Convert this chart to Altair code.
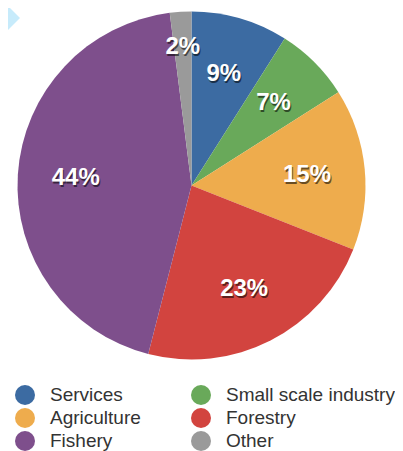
import altair as alt
import pandas as pd

categories = ["Services", "Small scale industry", "Agriculture", "Forestry", "Fishery", "Other"]
values = [9, 7, 15, 23, 44, 2]
labels = ["9%", "7%", "15%", "23%", "44%", "2%"]
colors = ["#3c6ba2", "#69a95a", "#eeac4d", "#d2443f", "#7e4f8c", "#9a9a9a"]

df = pd.DataFrame({
    "idx": list(range(len(categories))),
    "category": categories,
    "value": values,
    "label": labels,
})

CX, CY, R = 183.5, 177.5, 174

base = alt.Chart(df).transform_window(
    cum="sum(value)", sort=[alt.SortField("idx")], frame=[None, 0]
).transform_calculate(mid="datum.cum - datum.value / 2")

color = alt.Color(
    "category:N",
    scale=alt.Scale(domain=categories, range=colors),
    sort=categories,
    legend=alt.Legend(
        title=None, orient="none", legendX=7, legendY=377, columns=2,
        symbolType="circle", symbolSize=400, symbolStrokeWidth=0, symbolOpacity=1,
        labelFontSize=19, labelFont="Liberation Sans", labelColor="#333333",
        labelOffset=15, rowPadding=3, columnPadding=50, padding=0,
        labelLimit=400, direction="horizontal",
    ),
)

pie = base.mark_arc(radius=R).encode(
    theta=alt.Theta("value:Q", stack=True),
    order=alt.Order("idx:Q"),
    color=color,
    x=alt.value(CX),
    y=alt.value(CY),
)

theta_mid = alt.Theta("mid:Q", scale=alt.Scale(domain=[0, 100], range=[0, 6.283185307]), stack=None)

def text_layer(r, cond, fill, dx=0, dy=0, opacity=1.0):
    return base.transform_filter(cond).mark_text(
        radius=r, font="Liberation Sans", fontWeight="bold", fontSize=24,
        align="center", baseline="middle", dx=dx, dy=dy, opacity=opacity,
    ).encode(
        theta=theta_mid,
        text="label:N",
        color=alt.value(fill),
        x=alt.value(CX),
        y=alt.value(CY),
    )

main_cond = "datum.category != 'Other'"
other_cond = "datum.category == 'Other'"

shadow1 = text_layer(116, main_cond, "#000000", dx=1, dy=2, opacity=0.55)
shadow2 = text_layer(139, other_cond, "#000000", dx=1, dy=2, opacity=0.55)
text1 = text_layer(116, main_cond, "#ffffff")
text2 = text_layer(139, other_cond, "#ffffff")

tri = alt.Chart(pd.DataFrame({"a": [0]})).mark_point(
    shape="M-1,-1L0,0L-1,1Z", filled=True, opacity=1, size=1600, strokeWidth=0
).encode(x=alt.value(12), y=alt.value(10), color=alt.value("#c7ebfb"))

chart = alt.layer(tri, pie, shadow1, shadow2, text1, text2).properties(
    width=387, height=443, padding=0, autosize=alt.AutoSizeParams(type="none")
).configure_view(stroke=None)

chart.save("out.html", embed_options={"renderer": "svg", "actions": False})
